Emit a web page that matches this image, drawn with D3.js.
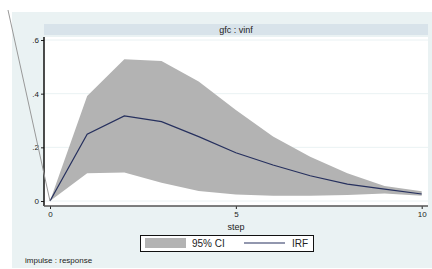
<!DOCTYPE html>
<html>
<head>
<meta charset="utf-8">
<script src="https://cdn.jsdelivr.net/npm/d3@7"></script>
<style>
  body { margin: 0; background: #fff; }
  text { font-family: "Liberation Sans", Arial, sans-serif; fill: #222; }
</style>
</head>
<body>
<div id="chart"></div>
<script>
// irf values
const steps = [0, 1, 2, 3, 4, 5, 6, 7, 8, 9, 10];
const irf   = [0, 0.249, 0.317, 0.296, 0.240, 0.180, 0.134, 0.094, 0.063, 0.044, 0.026];
const upper = [0, 0.391, 0.528, 0.522, 0.445, 0.339, 0.240, 0.165, 0.103, 0.056, 0.036];
const lower = [0, 0.103, 0.106, 0.068, 0.037, 0.024, 0.020, 0.020, 0.022, 0.028, 0.020];
const yTicks = [0, 0.2, 0.4, 0.6];
const xTicks = [0, 5, 10];

const width = 432, height = 269;

const svg = d3.select("#chart").append("svg")
    .attr("width", width)
    .attr("height", height);

// graph region background
svg.append("rect")
    .attr("x", 12).attr("y", 12)
    .attr("width", width - 12).attr("height", 256)
    .attr("fill", "#eaf2f3");

// title strip
svg.append("rect")
    .attr("x", 44).attr("y", 24)
    .attr("width", 384).attr("height", 11)
    .attr("fill", "#d8e3ea");
svg.append("text")
    .attr("x", 236).attr("y", 33)
    .attr("text-anchor", "middle")
    .attr("font-size", 9)
    .text("gfc : vinf");

// plot region
svg.append("rect")
    .attr("x", 44).attr("y", 37)
    .attr("width", 384).attr("height", 169)
    .attr("fill", "#fff");

const x = d3.scaleLinear().domain([0, 10]).range([50, 421.7]);
const y = d3.scaleLinear().domain([0, 0.6]).range([201, 40]);

// grid
svg.selectAll(".grid")
    .data(yTicks)
    .enter().append("line")
    .attr("class", "grid")
    .attr("x1", 44).attr("x2", 428)
    .attr("y1", d => y(d)).attr("y2", d => y(d))
    .attr("stroke", "#eaf2f3")
    .attr("stroke-width", 1);

const data = steps.map((s, i) => ({ s, irf: irf[i], lo: lower[i], hi: upper[i] }));

// confidence band
svg.append("path")
    .datum(data)
    .attr("d", d3.area().x(d => x(d.s)).y0(d => y(d.lo)).y1(d => y(d.hi)))
    .attr("fill", "#b3b3b3");

// irf line
svg.append("path")
    .datum(data)
    .attr("d", d3.line().x(d => x(d.s)).y(d => y(d.irf)))
    .attr("fill", "none")
    .attr("stroke", "#26305e")
    .attr("stroke-width", 1.2);

// y axis
const yAxis = svg.append("g")
    .attr("transform", "translate(44,0)")
    .call(d3.axisLeft(y).tickValues(yTicks).tickSize(3).tickPadding(2)
        .tickFormat(d => d === 0 ? "0" : d3.format(".1f")(d).replace(/^0/, "")));
yAxis.select(".domain").remove();
yAxis.append("line")
    .attr("x1", 0).attr("x2", 0).attr("y1", 37).attr("y2", 206)
    .attr("stroke", "#111").attr("stroke-width", 1.5);
yAxis.selectAll(".tick line").attr("stroke", "#222");
yAxis.selectAll(".tick text").attr("font-size", 8).attr("font-family", null);

// x axis
const xAxis = svg.append("g")
    .attr("transform", "translate(0,206)")
    .call(d3.axisBottom(x).tickValues(xTicks).tickSize(3).tickPadding(2));
xAxis.select(".domain").remove();
xAxis.append("line")
    .attr("x1", 44).attr("x2", 428).attr("y1", 0).attr("y2", 0)
    .attr("stroke", "#555").attr("stroke-width", 1.5);
xAxis.selectAll(".tick line").attr("stroke", "#222");
xAxis.selectAll(".tick text").attr("font-size", 8).attr("font-family", null);

svg.append("text")
    .attr("x", 236).attr("y", 230)
    .attr("text-anchor", "middle")
    .attr("font-size", 9)
    .text("step");

// legend
const lg = svg.append("g");
lg.append("rect")
    .attr("x", 140.5).attr("y", 235.5)
    .attr("width", 173).attr("height", 16)
    .attr("fill", "#fff").attr("stroke", "#111").attr("stroke-width", 1);
lg.append("rect")
    .attr("x", 145).attr("y", 238)
    .attr("width", 41).attr("height", 10)
    .attr("fill", "#b3b3b3");
lg.append("text")
    .attr("x", 192).attr("y", 247)
    .attr("font-size", 10)
    .text("95% CI");
lg.append("line")
    .attr("x1", 244).attr("x2", 285).attr("y1", 243).attr("y2", 243)
    .attr("stroke", "#26305e").attr("stroke-width", 1.2);
lg.append("text")
    .attr("x", 292).attr("y", 247)
    .attr("font-size", 10)
    .text("IRF");

svg.append("text")
    .attr("x", 25).attr("y", 263)
    .attr("font-size", 8)
    .text("impulse : response");

// stray diagonal line running to the origin
svg.append("line")
    .attr("x1", 8).attr("y1", 10)
    .attr("x2", x(0)).attr("y2", y(0))
    .attr("stroke", "#999").attr("stroke-width", 1);
</script>
</body>
</html>
